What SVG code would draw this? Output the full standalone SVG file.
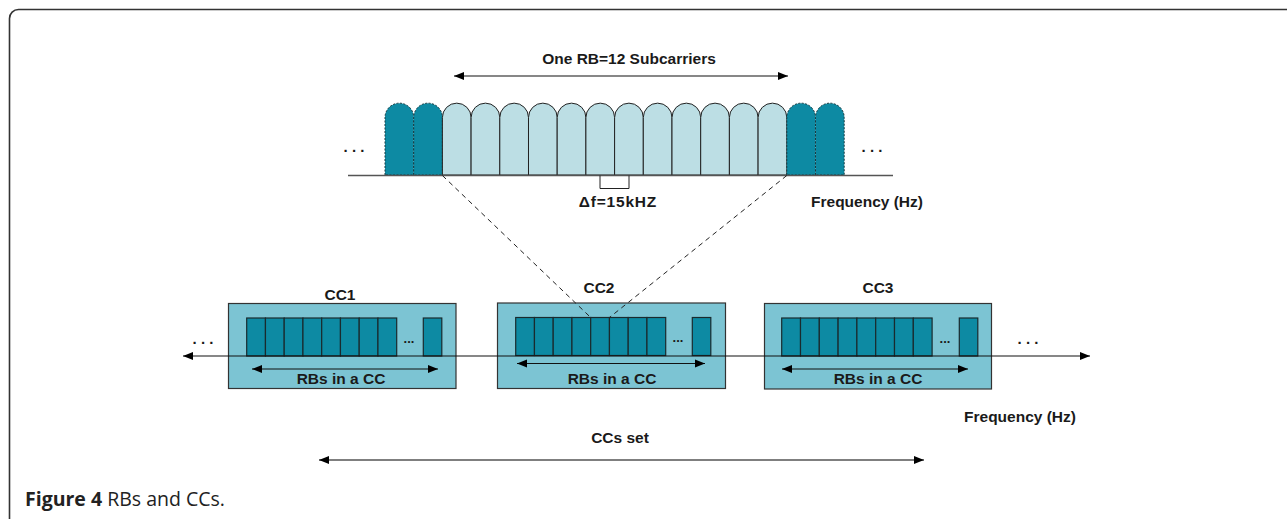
<svg xmlns="http://www.w3.org/2000/svg" width="1287" height="519" viewBox="0 0 1287 519">
<style>
.t{font-family:"Liberation Sans",Arial,sans-serif;font-weight:bold;fill:#1a1a1a}
.sc-l{fill:#bcdee4;stroke:#222;stroke-width:1}
.sc-d{fill:#0d8aa3;stroke:#1a3a40;stroke-width:1;stroke-dasharray:2 1.5}
.cc{fill:#7cc4d3;stroke:#333;stroke-width:1.2}
.rb{fill:#0d8aa3;stroke:#1a2a2e;stroke-width:1.2}
.ln{stroke:#111;stroke-width:1.2;fill:none}
.dash{stroke:#222;stroke-width:1;stroke-dasharray:5 4;fill:none}
</style>
<defs>
<marker id="ah" viewBox="0 0 10 10" refX="10" refY="5" markerWidth="10" markerHeight="10" markerUnits="userSpaceOnUse" orient="auto-start-reverse">
<path d="M0,1 L10,5 L0,9 z" fill="#000"/>
</marker>
<path id="arch" d="M0,175 V117.5 A14.35,14.35 0 0 1 28.7,117.5 V175 Z"/>
</defs>
<rect x="9.5" y="9.5" width="1300" height="520" rx="9" fill="none" stroke="#333" stroke-width="1.6"/>

<g id="subcarriers">
<use href="#arch" x="385" class="sc-d"/>
<use href="#arch" x="413.7" class="sc-d"/>
<use href="#arch" x="442.4" class="sc-l"/>
<use href="#arch" x="471.1" class="sc-l"/>
<use href="#arch" x="499.8" class="sc-l"/>
<use href="#arch" x="528.5" class="sc-l"/>
<use href="#arch" x="557.2" class="sc-l"/>
<use href="#arch" x="585.9" class="sc-l"/>
<use href="#arch" x="614.6" class="sc-l"/>
<use href="#arch" x="643.3" class="sc-l"/>
<use href="#arch" x="672" class="sc-l"/>
<use href="#arch" x="700.7" class="sc-l"/>
<use href="#arch" x="729.4" class="sc-l"/>
<use href="#arch" x="758.1" class="sc-l"/>
<use href="#arch" x="786.8" class="sc-d"/>
<use href="#arch" x="815.5" class="sc-d"/>
<line x1="348" y1="175.5" x2="893" y2="175.5" stroke="#555" stroke-width="1.3"/>
<path d="M600,175.5 V188.5 H629 V175.5" fill="none" stroke="#222" stroke-width="1"/>
<text x="354" y="152" class="t" font-size="15" text-anchor="middle" font-weight="normal">. . .</text>
<text x="872" y="152" class="t" font-size="15" text-anchor="middle" font-weight="normal">. . .</text>
<text x="629" y="64" class="t" font-size="15.5" text-anchor="middle">One RB=12 Subcarriers</text>
<text x="618" y="207" class="t" font-size="15.5" letter-spacing="0.8" text-anchor="middle">Δf=15kHZ</text>
<text x="867" y="207" class="t" font-size="15.5" text-anchor="middle">Frequency (Hz)</text>
</g>

<g id="cc1">
<rect x="228.5" y="303.5" width="227.5" height="85" class="cc"/>
<rect x="246.7" y="318" width="18.75" height="38" class="rb"/>
<rect x="265.45" y="318" width="18.75" height="38" class="rb"/>
<rect x="284.2" y="318" width="18.75" height="38" class="rb"/>
<rect x="302.95" y="318" width="18.75" height="38" class="rb"/>
<rect x="321.7" y="318" width="18.75" height="38" class="rb"/>
<rect x="340.45" y="318" width="18.75" height="38" class="rb"/>
<rect x="359.2" y="318" width="18.75" height="38" class="rb"/>
<rect x="377.95" y="318" width="18.75" height="38" class="rb"/>
<rect x="423.3" y="318" width="18.5" height="38" class="rb"/>
<text x="409" y="343" class="t" font-size="13" text-anchor="middle">...</text>
<text x="340" y="300" class="t" font-size="15.5" text-anchor="middle">CC1</text>
<text x="341" y="384" class="t" font-size="15.5" text-anchor="middle">RBs in a CC</text>
</g>

<g id="cc2">
<rect x="497.5" y="303" width="228" height="85.5" class="cc"/>
<rect x="515.7" y="317.5" width="18.75" height="38" class="rb"/>
<rect x="534.45" y="317.5" width="18.75" height="38" class="rb"/>
<rect x="553.2" y="317.5" width="18.75" height="38" class="rb"/>
<rect x="571.95" y="317.5" width="18.75" height="38" class="rb"/>
<rect x="590.7" y="317.5" width="18.75" height="38" class="rb"/>
<rect x="609.45" y="317.5" width="18.75" height="38" class="rb"/>
<rect x="628.2" y="317.5" width="18.75" height="38" class="rb"/>
<rect x="646.95" y="317.5" width="18.75" height="38" class="rb"/>
<rect x="692.3" y="317.5" width="18.5" height="38" class="rb"/>
<text x="678" y="342" class="t" font-size="13" text-anchor="middle">...</text>
<text x="599" y="293" class="t" font-size="15.5" text-anchor="middle">CC2</text>
<text x="612" y="384" class="t" font-size="15.5" text-anchor="middle">RBs in a CC</text>
</g>

<g id="cc3">
<rect x="764.5" y="303.5" width="227" height="85.5" class="cc"/>
<rect x="781.7" y="318" width="18.8" height="38" class="rb"/>
<rect x="800.5" y="318" width="18.8" height="38" class="rb"/>
<rect x="819.3" y="318" width="18.8" height="38" class="rb"/>
<rect x="838.1" y="318" width="18.8" height="38" class="rb"/>
<rect x="856.9" y="318" width="18.8" height="38" class="rb"/>
<rect x="875.7" y="318" width="18.8" height="38" class="rb"/>
<rect x="894.5" y="318" width="18.8" height="38" class="rb"/>
<rect x="913.3" y="318" width="18.8" height="38" class="rb"/>
<rect x="959.3" y="318" width="18.5" height="38" class="rb"/>
<text x="945" y="343" class="t" font-size="13" text-anchor="middle">...</text>
<text x="878" y="293" class="t" font-size="15.5" text-anchor="middle">CC3</text>
<text x="878" y="384" class="t" font-size="15.5" text-anchor="middle">RBs in a CC</text>
</g>

<g id="connectors">
<line x1="454" y1="76" x2="788" y2="76" class="ln" marker-start="url(#ah)" marker-end="url(#ah)"/>
<line x1="442.4" y1="175.5" x2="590.7" y2="317.5" class="dash"/>
<line x1="786.8" y1="175.5" x2="609.45" y2="317.5" class="dash"/>
<line x1="183" y1="356" x2="1090" y2="356" class="ln" marker-start="url(#ah)" marker-end="url(#ah)"/>
<line x1="252" y1="369" x2="438" y2="369" class="ln" marker-start="url(#ah)" marker-end="url(#ah)"/>
<line x1="517" y1="363.5" x2="705" y2="363.5" class="ln" marker-start="url(#ah)" marker-end="url(#ah)"/>
<line x1="782" y1="369" x2="968" y2="369" class="ln" marker-start="url(#ah)" marker-end="url(#ah)"/>
<line x1="319" y1="460" x2="924" y2="460" stroke="#555" stroke-width="1.6" marker-start="url(#ah)" marker-end="url(#ah)"/>
</g>

<g id="labels">
<text x="203" y="344" class="t" font-size="15" text-anchor="middle" font-weight="normal">. . .</text>
<text x="1028" y="344" class="t" font-size="15" text-anchor="middle" font-weight="normal">. . .</text>
<text x="1020" y="422" class="t" font-size="15.5" text-anchor="middle">Frequency (Hz)</text>
<text x="620" y="443" class="t" font-size="15.5" text-anchor="middle">CCs set</text>
<text x="25" y="506" font-family="'Open Sans','Noto Sans',sans-serif" font-size="19.5" fill="#222"><tspan font-weight="bold">Figure 4</tspan> RBs and CCs.</text>
</g>
</svg>
